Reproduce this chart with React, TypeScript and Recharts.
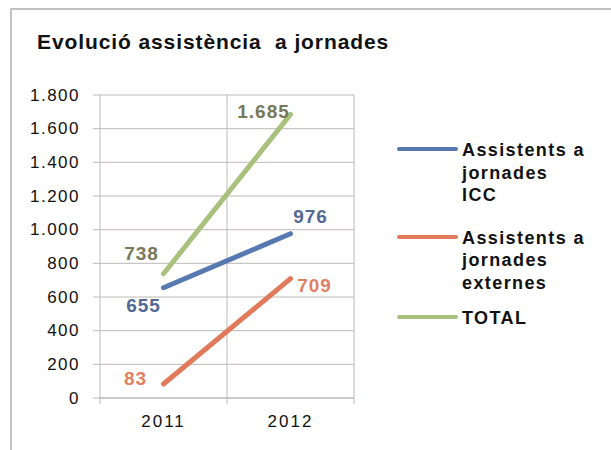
import React from 'react';
import { LineChart, Line, XAxis, YAxis, CartesianGrid, ReferenceLine, LabelList, Legend } from 'recharts';

const title = 'Evolució assistència  a jornades';
const categories = ['2011', '2012'];
const iccValues = [655, 976];
const externesValues = [83, 709];
const totalValues = [738, 1685];
const yTicks = [0, 200, 400, 600, 800, 1000, 1200, 1400, 1600, 1800];
const seriesNames = ['Assistents a jornades ICC', 'Assistents a jornades externes', 'TOTAL'];
const legendLines = [
  ['Assistents a', 'jornades', 'ICC'],
  ['Assistents a', 'jornades', 'externes'],
  ['TOTAL'],
];

const lineColors = ['#5679b2', '#e07a5a', '#a9c17c'];
const labelColors = ['#536895', '#e07f62', '#77785a'];
const gridColor = '#bfb8b8';
const FONT = '"Liberation Sans", Arial, sans-serif';

const data = categories.map((c, i) => ({
  year: c,
  pos: i + 0.5,
  icc: iccValues[i],
  ext: externesValues[i],
  total: totalValues[i],
}));

const fmt = (n: number) =>
  n >= 1000 ? `${Math.floor(n / 1000)}.${String(n % 1000).padStart(3, '0')}` : String(n);

const labelOffsets: Record<string, [number, number][]> = {
  icc: [[-20, 18], [20, -17]],
  ext: [[-28, -6], [24, 7]],
  total: [[-22, -20], [-27, -3]],
};

const makeLabel = (color: string, key: string) => (props: any) => {
  const { x, y, value, index } = props;
  const [dx, dy] = labelOffsets[key][index];
  return (
    <text
      x={x + dx}
      y={y + dy}
      fill={color}
      textAnchor="middle"
      dominantBaseline="central"
      style={{ fontFamily: FONT, fontWeight: 'bold', fontSize: 19, letterSpacing: 1 }}
    >
      {fmt(value)}
    </text>
  );
};

const XTick = (props: any) => {
  const { x, y, payload } = props;
  const v = payload.value;
  if (Number.isInteger(v)) {
    return <line x1={x} x2={x} y1={y - 8} y2={y - 2} stroke={gridColor} strokeWidth={1} />;
  }
  return (
    <text
      x={x}
      y={y + 15}
      textAnchor="middle"
      dominantBaseline="central"
      fill="#111"
      style={{ fontFamily: FONT, fontSize: 17, letterSpacing: 2 }}
    >
      {categories[Math.floor(v)]}
    </text>
  );
};

const YTick = (props: any) => {
  const { x, y, payload } = props;
  return (
    <text
      x={x}
      y={y}
      textAnchor="end"
      dominantBaseline="central"
      fill="#111"
      style={{ fontFamily: FONT, fontSize: 17, letterSpacing: 1.5 }}
    >
      {fmt(payload.value)}
    </text>
  );
};

const LegendContent = (props: any) => {
  const { payload } = props;
  const gaps = [20, 13, 0];
  return (
    <div style={{ fontFamily: FONT, fontWeight: 'bold', fontSize: 18, letterSpacing: 1.4, color: '#111' }}>
      {(payload || []).map((entry: any, i: number) => (
        <div key={i} style={{ display: 'flex', alignItems: 'flex-start', marginBottom: gaps[i] }}>
          <div
            style={{
              width: 61,
              height: 4,
              marginTop: 8,
              marginRight: 4,
              background: entry.color,
              borderRadius: 2,
            }}
          />
          <div style={{ lineHeight: '22.5px' }}>
            {legendLines[i].map((t, j) => (
              <div key={j}>{t}</div>
            ))}
          </div>
        </div>
      ))}
    </div>
  );
};

export default function App() {
  return (
    <div style={{ position: 'absolute', left: 0, top: 0, width: 611, height: 450, background: '#fff', overflow: 'hidden' }}>
      <div
        style={{
          position: 'absolute',
          left: 10,
          top: 8,
          width: 601,
          height: 442,
          boxSizing: 'border-box',
          borderLeft: '2px solid #c6c1c1',
          borderTop: '2px solid #c6c1c1',
        }}
      />
      <div
        style={{
          position: 'absolute',
          left: 37,
          top: 30,
          whiteSpace: 'pre',
          fontFamily: FONT,
          fontWeight: 'bold',
          fontSize: 21,
          letterSpacing: 0.9,
          color: '#111',
          lineHeight: '24px',
        }}
      >
        {title}
      </div>
      <div style={{ position: 'absolute', left: 0, top: 0 }}>
        <LineChart width={611} height={450} data={data} margin={{ top: 95, right: 257, bottom: 12, left: 0 }}>
          <CartesianGrid vertical={false} stroke={gridColor} />
          <XAxis
            dataKey="pos"
            type="number"
            domain={[0, 2]}
            ticks={[0, 0.5, 1, 1.5, 2]}
            interval={0}
            height={40}
            tickSize={6}
            tickMargin={2}
            tickLine={false}
            axisLine={{ stroke: gridColor }}
            tick={<XTick />}
          />
          <YAxis
            width={100}
            domain={[0, 1800]}
            ticks={yTicks}
            interval={0}
            tickSize={7}
            tickMargin={13}
            tickLine={{ stroke: gridColor }}
            axisLine={{ stroke: gridColor }}
            tick={<YTick />}
          />
          <ReferenceLine x={1} stroke={gridColor} />
          <ReferenceLine x={2} stroke={gridColor} />
          <Legend
            layout="vertical"
            align="center"
            verticalAlign="middle"
            content={<LegendContent />}
            wrapperStyle={{ left: 397, top: 139, width: 210 }}
          />
          <Line dataKey="icc" name={seriesNames[0]} stroke={lineColors[0]} strokeWidth={5} dot={false} isAnimationActive={false} strokeLinecap="round">
            <LabelList dataKey="icc" content={makeLabel(labelColors[0], 'icc')} />
          </Line>
          <Line dataKey="ext" name={seriesNames[1]} stroke={lineColors[1]} strokeWidth={5} dot={false} isAnimationActive={false} strokeLinecap="round">
            <LabelList dataKey="ext" content={makeLabel(labelColors[1], 'ext')} />
          </Line>
          <Line dataKey="total" name={seriesNames[2]} stroke={lineColors[2]} strokeWidth={5} dot={false} isAnimationActive={false} strokeLinecap="round">
            <LabelList dataKey="total" content={makeLabel(labelColors[2], 'total')} />
          </Line>
        </LineChart>
      </div>
    </div>
  );
}
